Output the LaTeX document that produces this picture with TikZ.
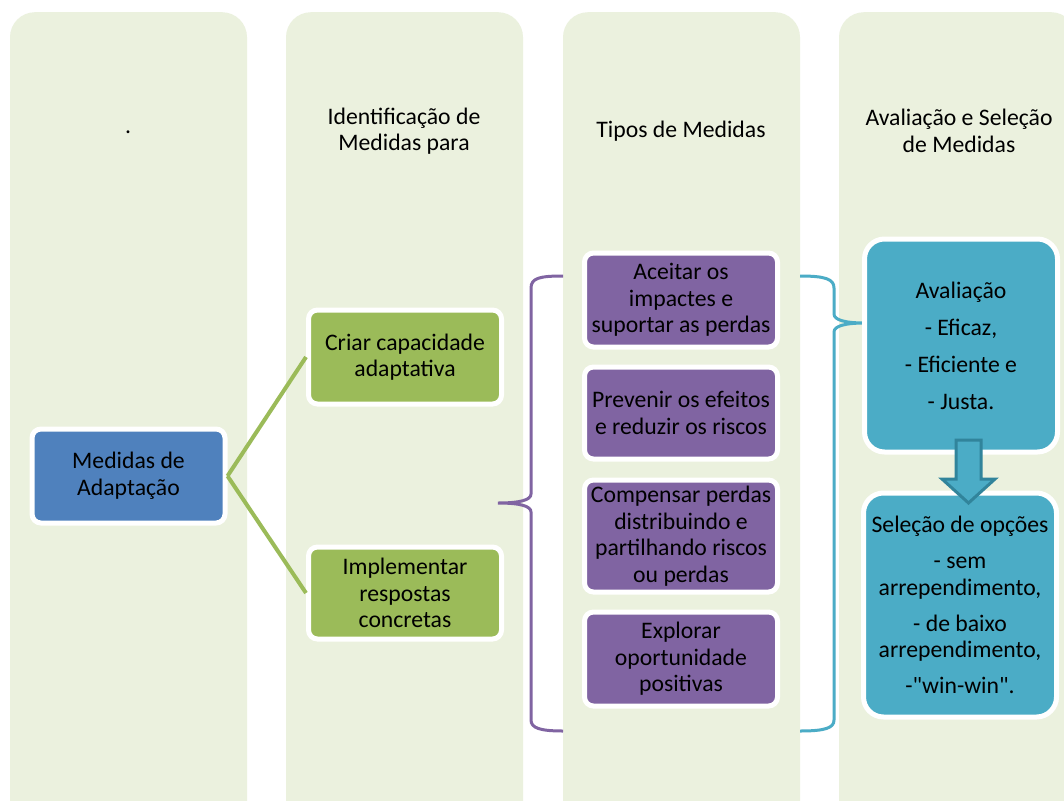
\documentclass[tikz,border=0pt]{standalone}
\usepackage{fontspec}
\setmainfont{Carlito}
\newfontfamily\plainq{Carlito}
\usetikzlibrary{calc}
\definecolor{colbg}{HTML}{EBF1DE}
\definecolor{bluefill}{HTML}{4F81BD}
\definecolor{greenfill}{HTML}{9BBB59}
\definecolor{purplefill}{HTML}{8064A2}
\definecolor{cyanfill}{HTML}{4BACC6}
\definecolor{cyandark}{HTML}{31849B}
\begin{document}
\begin{tikzpicture}[x=1pt,y=-1pt,
  colbox/.style={fill=colbg, rounded corners=25pt, minimum width=237pt, minimum height=820pt, anchor=north, inner sep=0pt},
  hdr/.style={align=center, font=\fontsize{23.7}{26.5}\selectfont, inner sep=0pt},
  boxbase/.style={draw=white, line width=5pt, rounded corners=9pt, align=center, inner sep=0pt, font=\fontsize{23.7}{26.5}\selectfont, minimum width=193pt},
  bluebox/.style={boxbase, fill=bluefill},
  greenbox/.style={boxbase, fill=greenfill},
  purplebox/.style={boxbase, fill=purplefill},
  cyanbox/.style={boxbase, fill=cyanfill, rounded corners=20pt},
  greenline/.style={draw=greenfill, line width=4pt},
  purplebrace/.style={draw=purplefill, line width=3pt},
  cyanbrace/.style={draw=cyanfill, line width=3pt},
]
\useasboundingbox (0,0) rectangle (1064,800);
\clip (0,0) rectangle (1064,800);
\fill[white] (0,0) rectangle (1064,800);

% columns
\node[colbox] (col1) at (128.5,12) {};
\node[colbox] (col2) at (404.5,12) {};
\node[colbox] (col3) at (681.5,12) {};
\node[colbox] (col4) at (957.5,12) {};

% headers
\node[hdr] (h1) at (128,132) {.};
\node[hdr] (h2) at (404,131) {Identificação de\\Medidas para};
\node[hdr] (h3) at (681,131) {Tipos de Medidas};
\node[hdr] (h4) at (959,131) {Avaliação e Seleção\\de Medidas};

% braces
\draw[purplebrace] (563,276) .. controls (540,276) and (531,278) .. (531,288)
  -- (531,494) .. controls (531,500) and (520,503) .. (498,503)
  .. controls (520,503) and (531,506) .. (531,512)
  -- (531,720) .. controls (531,728) and (540,731) .. (563,731);
\draw[cyanbrace] (800,276) .. controls (825,276) and (834,279) .. (834,288)
  -- (834,314) .. controls (834,320) and (845,323) .. (865,323)
  .. controls (845,323) and (834,326) .. (834,332)
  -- (834,720) .. controls (834,728) and (825,731) .. (800,731);

% nodes
\node[bluebox, minimum height=94pt] (adapt) at (128.5,476) {Medidas de\\Adaptação};
\node[greenbox, minimum height=94pt] (criar) at (405,357) {Criar capacidade\\adaptativa};
\node[greenbox, minimum height=92pt] (impl) at (405,593) {Implementar\\respostas\\concretas};

\draw[greenline] (adapt.east) -- (criar.west);
\draw[greenline] (adapt.east) -- (impl.west);

\node[purplebox, minimum height=94pt] (aceitar) at (681,300) {Aceitar os\\impactes e\\suportar as perdas};
\node[purplebox, minimum height=92pt] (prevenir) at (681,413) {Prevenir os efeitos\\e reduzir os riscos};
\node[purplebox, minimum height=112pt] (compensar) at (681,536) {Compensar perdas\\distribuindo e\\partilhando riscos\\ou perdas};
\node[purplebox, minimum height=94pt] (explorar) at (681,659) {Explorar\\oportunidade\\positivas};

\node[cyanbox, minimum height=213pt] (aval) at (961,345.5) {Avaliação\\[10.5pt]- Eficaz,\\[10.5pt]- Eficiente e\\[10.5pt]- Justa.};
\node[cyanbox, minimum height=224pt] (sel) at (960,605) {Seleção de opções\\[9.5pt]- sem\\arrependimento,\\[9.5pt]- de baixo\\arrependimento,\\[9.5pt]{\plainq -"win-win".}};

% block arrow
\coordinate (atop) at (968.5,440);
\draw[draw=cyandark, fill=cyanfill, line width=3pt, line join=miter]
  ($(atop)+(-12.5,0)$) -- ($(atop)+(12.5,0)$) -- ($(atop)+(12.5,39)$) -- ($(atop)+(26.5,39)$)
  -- (968.5,503) -- ($(atop)+(-26.5,39)$) -- ($(atop)+(-12.5,39)$) -- cycle;
\end{tikzpicture}
\end{document}
